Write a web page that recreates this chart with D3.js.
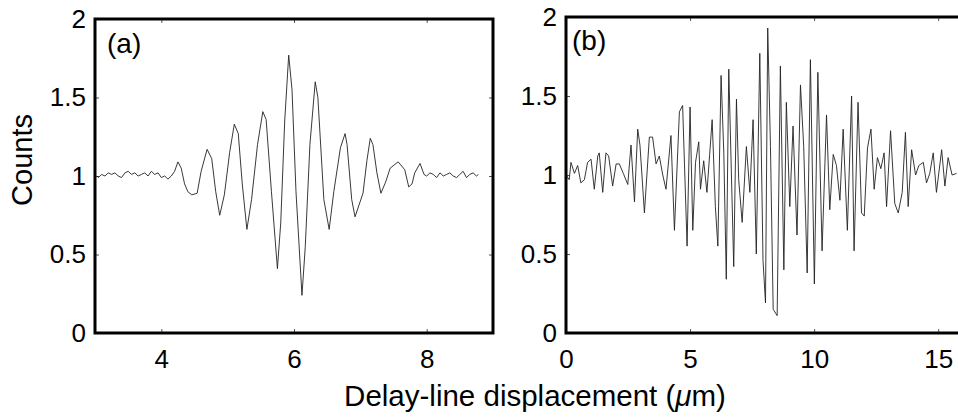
<!DOCTYPE html>
<html>
<head>
<meta charset="utf-8">
<script src="https://cdn.jsdelivr.net/npm/d3@7"></script>
<style>
body { margin: 0; background: #fff; }
text { font-family: "Liberation Sans", Arial, Helvetica, sans-serif; fill: #000; }
</style>
</head>
<body>
<svg id="fig" width="958" height="417"></svg>
<script>
// panel (a) : delay-line displacement (um) vs counts
var xA = [3.03,3.05,3.10,3.15,3.20,3.25,3.30,3.35,3.40,3.45,3.50,3.55,3.60,3.65,3.70,3.75,3.80,3.85,3.90,3.95,
  4.00,4.05,4.10,4.15,4.20,4.25,4.30,4.35,4.40,4.46,4.54,4.60,4.69,4.76,4.82,4.88,4.95,5.03,5.10,5.16,
  5.22,5.29,5.36,5.45,5.53,5.58,5.66,5.75,5.80,5.86,5.92,5.97,6.03,6.12,6.17,6.24,6.32,6.36,6.45,6.53,
  6.60,6.70,6.77,6.80,6.87,6.92,7.04,7.10,7.15,7.19,7.25,7.31,7.38,7.45,7.57,7.67,7.73,7.78,7.82,7.90,
  7.96,8.00,8.05,8.10,8.15,8.20,8.25,8.30,8.35,8.40,8.45,8.50,8.55,8.60,8.65,8.70,8.75,8.78];
var yA = [1.00,0.99,1.01,1.00,1.02,1.01,1.02,1.00,0.99,1.02,1.03,1.01,1.02,1.00,1.01,1.02,1.00,1.03,1.01,1.02,
  0.99,1.00,0.98,1.00,1.03,1.09,1.05,0.95,0.90,0.88,0.89,1.03,1.17,1.11,0.90,0.75,0.88,1.15,1.33,1.27,
  0.95,0.66,0.85,1.20,1.41,1.36,0.90,0.41,0.70,1.35,1.77,1.55,0.90,0.24,0.55,1.20,1.60,1.50,0.85,0.66,
  0.90,1.18,1.27,1.20,0.85,0.74,0.89,1.10,1.24,1.20,1.02,0.89,0.96,1.05,1.09,1.04,0.93,0.95,1.02,1.08,
  1.01,1.00,1.02,1.01,0.99,1.02,1.00,1.01,1.02,1.00,0.99,1.01,1.03,0.99,1.01,1.02,1.00,1.01];

// panel (b)
var xB = [0.00,0.13,0.20,0.34,0.47,0.60,0.74,0.87,1.01,1.14,1.28,1.34,1.48,1.61,1.72,1.88,2.02,2.15,2.31,2.49,
  2.62,2.76,2.89,2.98,3.16,3.36,3.49,3.63,3.76,3.90,4.03,4.23,4.37,4.57,4.70,4.88,5.00,5.11,5.22,5.35,
  5.42,5.55,5.68,5.79,5.89,6.02,6.12,6.25,6.36,6.46,6.56,6.76,6.87,6.96,7.10,7.27,7.41,7.54,7.67,7.81,
  7.94,8.04,8.13,8.24,8.35,8.51,8.64,8.78,8.88,9.02,9.15,9.31,9.45,9.58,9.72,9.85,10.01,10.15,10.32,10.50,
  10.63,10.77,10.90,11.04,11.17,11.34,11.51,11.61,11.77,11.91,12.02,12.15,12.29,12.42,12.55,12.69,12.82,12.92,13.08,13.25,
  13.39,13.55,13.68,13.79,13.93,14.09,14.22,14.40,14.53,14.66,14.80,14.93,15.14,15.27,15.40,15.56,15.74];
var yB = [1.00,0.97,1.08,1.01,1.06,0.95,0.97,1.08,1.10,0.91,1.12,1.14,0.89,1.14,1.12,0.93,1.07,1.07,1.01,0.94,
  1.19,0.83,1.29,1.19,0.76,1.24,1.24,1.07,1.12,1.00,0.91,1.25,0.65,1.40,1.44,0.55,1.43,0.65,1.08,1.21,
  0.91,1.09,0.89,1.13,1.35,0.80,0.55,1.63,1.14,0.34,1.67,0.42,1.48,0.97,0.70,1.18,0.89,1.35,0.50,1.77,
  0.46,0.19,1.93,1.18,0.15,0.11,1.69,0.40,1.46,0.80,1.31,0.62,1.57,1.18,0.38,1.73,0.31,1.65,0.52,1.38,
  0.78,1.13,1.06,0.84,1.29,0.65,1.50,0.52,1.46,0.76,0.74,1.17,1.29,0.91,1.11,1.04,1.14,0.80,1.28,0.82,
  0.76,0.89,1.27,0.80,1.16,1.00,1.06,1.08,0.95,1.01,1.14,0.89,1.16,0.93,1.11,1.00,1.01];

var ticksA = [4, 6, 8];
var ticksB = [0, 5, 10, 15];
var yTicks = [0, 0.5, 1, 1.5, 2];

var svg = d3.select("#fig");

function panel(opt) {
  var x = d3.scaleLinear().domain(opt.xdom).range([opt.left, opt.right]);
  var y = d3.scaleLinear().domain([0, 2]).range([opt.bottom, opt.top]);
  var g = svg.append("g");

  // little inside ticks on all four sides
  g.append("g").attr("transform", "translate(0," + opt.bottom + ")")
    .call(d3.axisBottom(x).tickValues(opt.xticks).tickSize(-4).tickPadding(17).tickFormat(d3.format("d")))
    .call(fix);
  g.append("g").attr("transform", "translate(0," + opt.top + ")")
    .call(d3.axisTop(x).tickValues(opt.xticks).tickSize(-4).tickFormat(""))
    .call(fix);
  g.append("g").attr("transform", "translate(" + opt.left + ",0)")
    .call(d3.axisLeft(y).tickValues(yTicks).tickSize(-4).tickPadding(9).tickFormat(function(d){ return d3.format("")(d); }))
    .call(fix);
  g.append("g").attr("transform", "translate(" + opt.right + ",0)")
    .call(d3.axisRight(y).tickValues(yTicks).tickSize(-4).tickFormat(""))
    .call(fix);

  g.selectAll(".tick text").style("font-size", "26px");
  g.selectAll(".tick line").attr("stroke", "#555").attr("stroke-width", 1);

  var line = d3.line().x(function(d){ return x(d[0]); }).y(function(d){ return y(d[1]); });
  g.append("path")
    .datum(d3.zip(opt.xs, opt.ys))
    .attr("fill", "none")
    .attr("stroke", "#222")
    .attr("stroke-width", 0.9)
    .attr("d", line);

  // frame
  g.append("rect")
    .attr("x", opt.left).attr("y", opt.top)
    .attr("width", opt.right - opt.left).attr("height", opt.bottom - opt.top)
    .attr("fill", "none").attr("stroke", "#000").attr("stroke-width", 3);

  g.append("text")
    .attr("x", opt.left + opt.lx).attr("y", opt.top + opt.ly)
    .style("font-size", "28px")
    .text(opt.label);
}

function fix(sel) {
  sel.select(".domain").remove();
  sel.attr("font-family", null).attr("font-size", null);
}

panel({ xs: xA, ys: yA, xdom: [3, 9], xticks: ticksA, left: 95, right: 493, top: 19, bottom: 333, label: "(a)", lx: 12, ly: 34 });
panel({ xs: xB, ys: yB, xdom: [0, 16], xticks: ticksB, left: 566, right: 963, top: 17, bottom: 333, label: "(b)", lx: 6, ly: 33 });

svg.append("text")
  .attr("transform", "translate(32,160) rotate(-90)")
  .attr("text-anchor", "middle")
  .style("font-size", "29px")
  .text("Counts");

var xl = svg.append("text")
  .attr("x", 535).attr("y", 406)
  .attr("text-anchor", "middle")
  .style("font-size", "29.5px");
xl.append("tspan").text("Delay-line displacement (");
xl.append("tspan").style("font-style", "italic").text("\u03bc");
xl.append("tspan").text("m)");
</script>
</body>
</html>
